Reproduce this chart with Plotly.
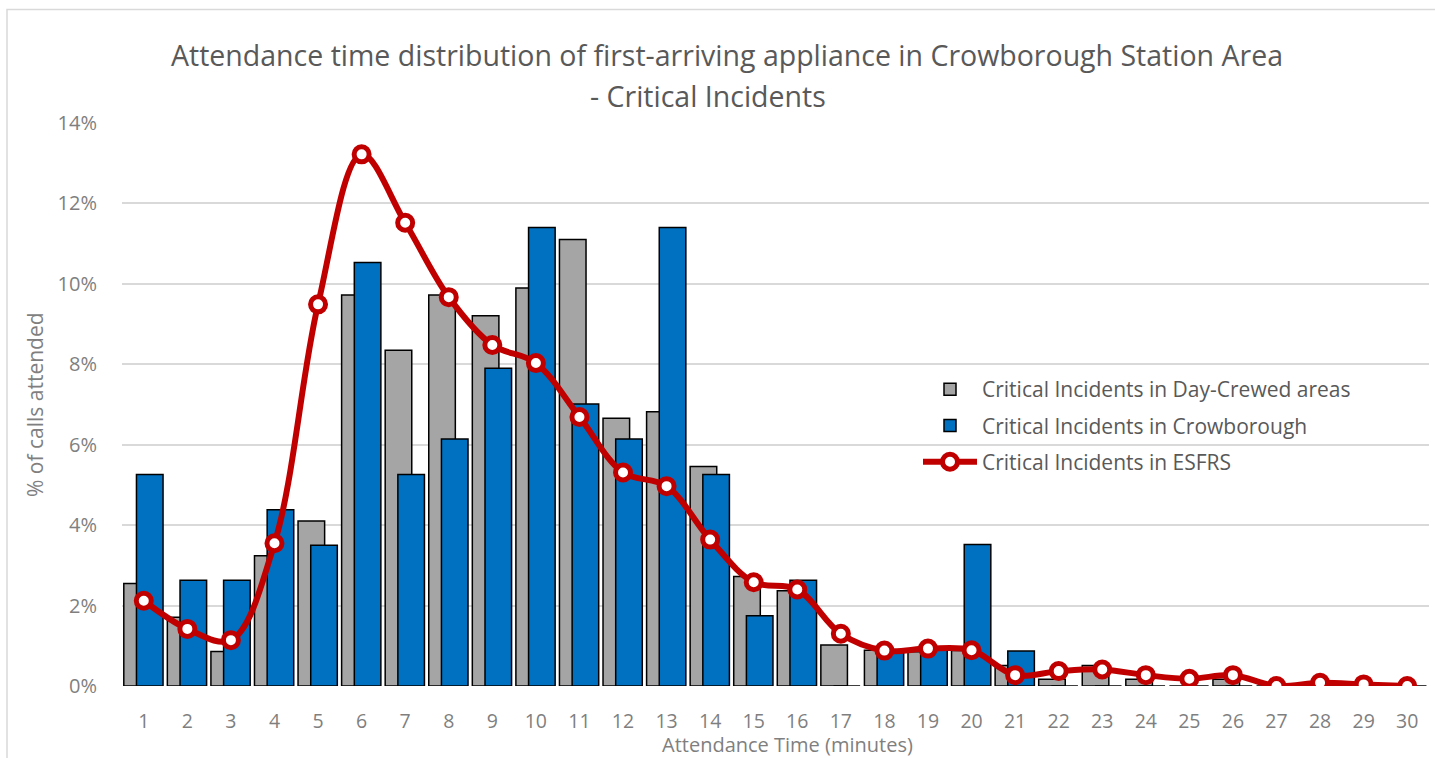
import plotly.graph_objects as go

minutes = list(range(1, 31))
day_crewed = [2.55, 1.71, 0.86, 3.24, 4.10, 9.72, 8.35, 9.72, 9.21, 9.90,
              11.10, 6.66, 6.82, 5.46, 2.72, 2.37, 1.02, 0.89, 0.85, 0.88,
              0.51, 0.17, 0.51, 0.17, 0.0, 0.17, 0.0, 0.0, 0.0, 0.0]
crowborough = [5.26, 2.63, 2.63, 4.38, 3.50, 10.53, 5.26, 6.14, 7.90, 11.40,
               7.01, 6.14, 11.40, 5.26, 1.75, 2.63, 0.0, 0.88, 0.93, 3.52,
               0.87, 0.0, 0.0, 0.0, 0.0, 0.0, 0.0, 0.0, 0.0, 0.0]
esfrs = [2.12, 1.42, 1.14, 3.55, 9.49, 13.22, 11.52, 9.67, 8.48, 8.03,
         6.69, 5.31, 4.97, 3.64, 2.58, 2.40, 1.30, 0.88, 0.93, 0.89,
         0.27, 0.37, 0.41, 0.27, 0.18, 0.27, 0.0, 0.08, 0.04, 0.0]
y_ticks = [0, 2, 4, 6, 8, 10, 12, 14]

names = ["Critical Incidents in Day-Crewed areas",
         "Critical Incidents in Crowborough",
         "Critical Incidents in ESFRS"]

FONT = "Open Sans"
TXT = "#7f7f7f"

fig = go.Figure()
fig.add_trace(go.Bar(
    x=minutes, y=[v / 100 for v in day_crewed], name=names[0],
    width=0.61, offset=-0.459, legendgroup="a",
    marker=dict(color="#A5A5A5", line=dict(color="#000000", width=1.5)),
))
fig.add_trace(go.Bar(
    x=minutes, y=[v / 100 for v in crowborough], name=names[1],
    width=0.61, offset=-0.168, legendgroup="b",
    marker=dict(color="#0070C0", line=dict(color="#000000", width=1.5)),
))
fig.add_trace(go.Scatter(
    x=minutes, y=[v / 100 for v in esfrs], name=names[2],
    mode="lines+markers", legendgroup="c",
    line=dict(color="#C00000", width=6, shape="spline", smoothing=1.0),
    marker=dict(symbol="circle", size=15, color="#FFFFFF",
                line=dict(color="#C00000", width=5)),
))

L, R, T, B = 122, 6, 123, 72
W, H = 1435, 758
pw, ph = W - L - R, H - T - B

def px(x):
    return (x - L) / pw

def py(y):
    return (H - B - y) / ph

fig.update_layout(
    width=W, height=H,
    margin=dict(l=L, r=R, t=T, b=B, pad=0),
    barmode="overlay",
    paper_bgcolor="#FFFFFF", plot_bgcolor="#FFFFFF",
    font=dict(family=FONT, color=TXT),
    showlegend=True,
    legend=dict(x=px(918), y=py(369), xanchor="left", yanchor="top",
                font=dict(family=FONT, size=21, color="#595959"),
                bgcolor="rgba(0,0,0,0)", tracegroupgap=6, itemwidth=54,
                traceorder="grouped"),
    xaxis=dict(range=[0.5, 30.5], tickmode="array", tickvals=minutes,
               ticktext=[str(m) for m in minutes], showgrid=False,
               zeroline=False, showline=False, ticks="",
               ticklabelstandoff=21,
               tickfont=dict(family=FONT, size=19.5, color=TXT)),
    yaxis=dict(range=[0, 0.14], tickmode="array",
               tickvals=[t / 100 for t in y_ticks],
               ticktext=[f"{t}%" for t in y_ticks],
               showgrid=True, gridcolor="#d9d9d9", gridwidth=1.5,
               zeroline=False, showline=False, ticks="",
               ticklabelstandoff=24,
               tickfont=dict(family=FONT, size=20, color=TXT)),
    shapes=[dict(type="rect", xref="paper", yref="paper",
                 x0=px(7), x1=px(1445), y0=py(775), y1=py(9.5),
                 line=dict(color="#d9d9d9", width=1.5),
                 fillcolor="rgba(0,0,0,0)", layer="below")],
    annotations=[
        dict(text="Attendance time distribution of first-arriving appliance in Crowborough Station Area",
             xref="paper", yref="paper", x=px(726.5), y=py(55),
             xanchor="center", yanchor="middle", showarrow=False,
             font=dict(family=FONT, size=28.5, color="#595959")),
        dict(text="- Critical Incidents",
             xref="paper", yref="paper", x=px(707.5), y=py(96),
             xanchor="center", yanchor="middle", showarrow=False,
             font=dict(family=FONT, size=28.5, color="#595959")),
        dict(text="Attendance Time (minutes)",
             xref="paper", yref="paper", x=px(788), y=py(744),
             xanchor="center", yanchor="middle", showarrow=False,
             font=dict(family=FONT, size=20, color=TXT)),
        dict(text="% of calls attended", textangle=-90,
             xref="paper", yref="paper", x=px(35), y=py(405),
             xanchor="center", yanchor="middle", showarrow=False,
             font=dict(family=FONT, size=21, color=TXT)),
    ],
)

fig.write_html(
    "out.html",
    config={"displayModeBar": False},
    post_script="document.body.style.margin='0';document.body.style.overflow='hidden';",
)
